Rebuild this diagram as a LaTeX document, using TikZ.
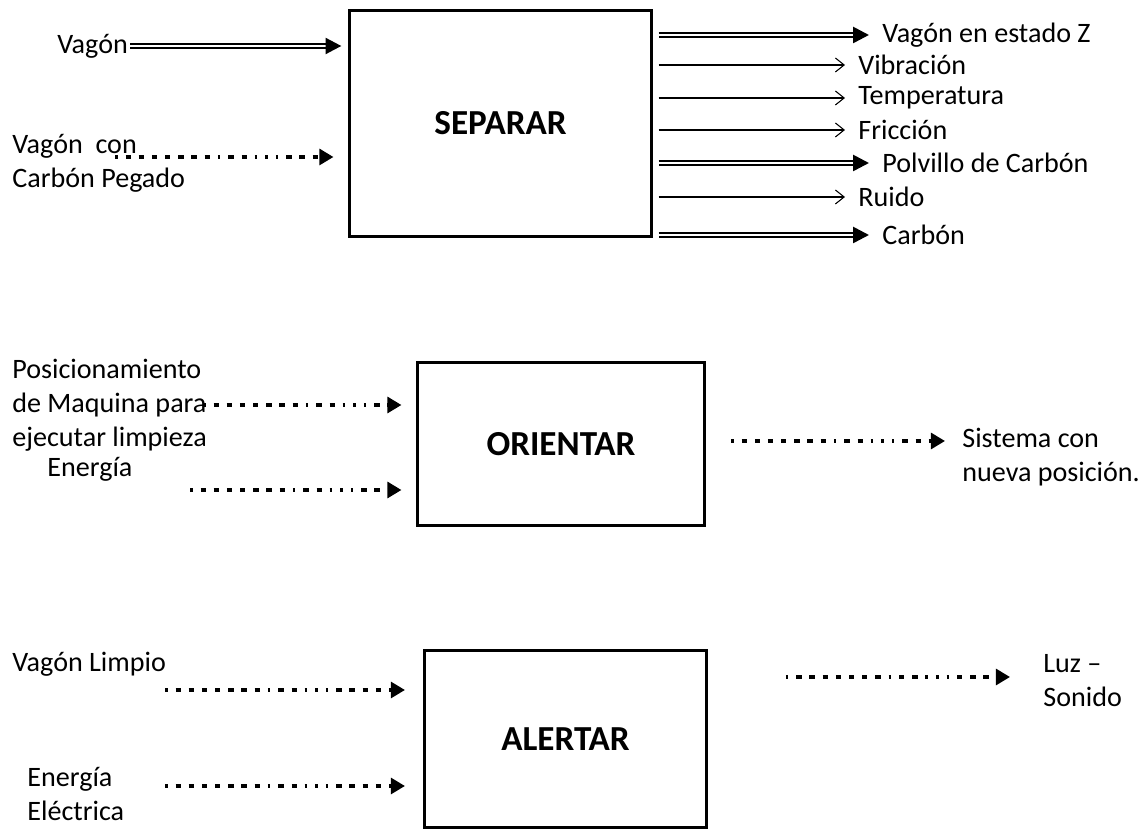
\documentclass[tikz,border=0pt]{standalone}
\usepackage{fontspec}
\setmainfont{Carlito}
\usetikzlibrary{arrows.meta}
\begin{document}
\begin{tikzpicture}
    [x=0.02cm,y=-0.02cm,
     proc/.style={draw,line width=1.7pt,font=\fontsize{20}{24}\selectfont\bfseries,inner sep=0pt},
     lbl/.style={anchor=west,inner sep=0pt,align=left,font=\fontsize{16}{19.4}\selectfont},
     flow/.style={double,double distance=0.9pt,line width=1.5pt,-{Triangle[length=9pt,width=9pt]}},
     signal/.style={line width=0.6pt,-{Straight Barb[length=5pt,width=8pt]}},
     info/.style={line width=1.9pt,-{Triangle[length=8pt,width=9pt]},
       dash pattern={on 1.5pt off 4.5pt on 3pt off 4.5pt on 3pt off 4.5pt on 3pt off 4.5pt on 3pt off 4.5pt
                     on 3pt off 4.5pt on 3pt off 4.5pt on 3pt off 4.5pt on 1.5pt off 4.5pt on 3pt off 4.5pt
                     on 3pt off 4.5pt on 1.5pt off 4.5pt on 1.5pt off 4.5pt}}]

    \useasboundingbox (0,0) rectangle (1140,830);

    % SEPARAR
    \node[proc,minimum width=6.06cm,minimum height=4.54cm] (separar) at (500.5,123.5) {SEPARAR};
    \node[lbl] (sep-in1) at (57,46) {Vagón};
    \node[lbl] (sep-in2) at (12,163) {Vagón\ \ con\\Carbón Pegado};
    \coordinate (sep-c2) at (115,157);
    \draw[flow,shorten >=3.5pt] (sep-in1.east) ++(2,0) -- (sep-in1.east -| separar.west);
    \draw[info,shorten >=8pt] (sep-c2) -- (sep-c2 -| separar.west);

    \foreach \y/\tip/\kind/\text [count=\i] in {35/869/flow/{Vagón en estado Z}, 65/845/signal/Vibración,
        98/845/signal/Temperatura, 130/845/signal/Fricción, 163/869/flow/{Polvillo de Carbón},
        197/845/signal/Ruido, 235/869/flow/Carbón}
      {
        \coordinate (sep-out\i) at (\tip,\y);
        \node[lbl] (sep-lbl\i) at (\tip+13,\y) {\text};
        \draw[\kind,shorten <=3pt] (separar.east |- sep-out\i) -- (sep-out\i);
      }

    % ORIENTAR
    \node[proc,minimum width=5.76cm,minimum height=3.28cm] (orientar) at (561,444) {ORIENTAR};
    \node[lbl] (ori-in1) at (12,405) {Posicionamiento\\de Maquina para\\ejecutar limpieza};
    \node[lbl] (ori-in2) at (47,469) {Energía};
    \node[lbl] (ori-out) at (962,457) {Sistema con\\nueva posición.};
    \coordinate (ori-c1) at (203,405);
    \coordinate (ori-c2) at (190,490);
    \coordinate (ori-c3) at (945,441);
    \foreach \c in {ori-c1,ori-c2}
      \draw[info,shorten >=8pt] (\c) -- (\c -| orientar.west);
    \draw[info,shorten <=14pt] (orientar.east |- ori-c3) -- (ori-c3);

    % ALERTAR
    \node[proc,minimum width=5.66cm,minimum height=3.56cm] (alertar) at (565.5,739) {ALERTAR};
    \node[lbl] (ale-in1) at (12,664) {Vagón Limpio};
    \node[lbl] (ale-in2) at (27,794) {Energía\\Eléctrica};
    \node[lbl] (ale-out) at (1043,681) {Luz –\\Sonido};
    \coordinate (ale-c1) at (165,690);
    \coordinate (ale-c2) at (165,786);
    \coordinate (ale-c3) at (1010,677);
    \foreach \c in {ale-c1,ale-c2}
      \draw[info,shorten >=10pt] (\c) -- (\c -| alertar.west);
    \draw[info,shorten <=44pt] (alertar.east |- ale-c3) -- (ale-c3);
\end{tikzpicture}
\end{document}
